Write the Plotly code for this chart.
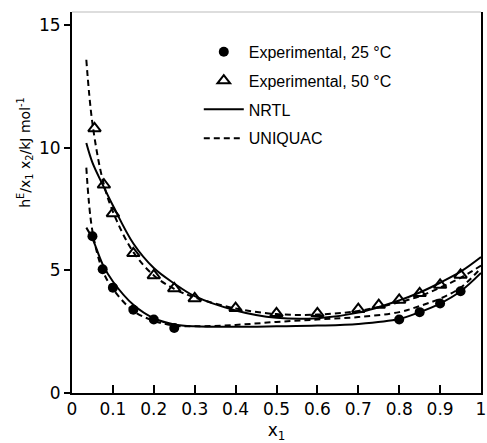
import plotly.graph_objects as go

# Experimental data
x25 = [0.05, 0.075, 0.1, 0.15, 0.2, 0.25, 0.8, 0.85, 0.9, 0.95]
y25 = [6.4, 5.05, 4.3, 3.4, 3.0, 2.65, 3.0, 3.3, 3.65, 4.15]

x50 = [0.055, 0.078, 0.1, 0.15, 0.2, 0.25, 0.3, 0.4, 0.5, 0.6, 0.7, 0.75, 0.8, 0.85, 0.9, 0.95]
y50 = [10.8, 8.5, 7.33, 5.7, 4.8, 4.27, 3.86, 3.46, 3.25, 3.25, 3.42, 3.59, 3.8, 4.07, 4.41, 4.82]

# Model curves
xc = [0.035, 0.05, 0.075, 0.1, 0.15, 0.2, 0.25, 0.3, 0.4, 0.5, 0.6, 0.7, 0.8, 0.85, 0.9, 0.95, 1.0]
nrtl50 = [10.2, 9.4, 8.5, 7.65, 6.1, 5.1, 4.47, 3.95, 3.37, 3.07, 3.05, 3.28, 3.78, 4.1, 4.5, 4.95, 5.55]
uniq50 = [13.6, 11.0, 8.7, 7.4, 5.75, 4.8, 4.25, 3.9, 3.45, 3.22, 3.2, 3.35, 3.7, 3.95, 4.3, 4.7, 5.2]
nrtl25 = [6.75, 6.3, 5.25, 4.55, 3.6, 3.05, 2.8, 2.72, 2.7, 2.72, 2.75, 2.82, 3.02, 3.3, 3.65, 4.15, 4.9]
uniq25 = [9.2, 6.6, 5.0, 4.25, 3.35, 2.95, 2.75, 2.72, 2.78, 2.9, 3.0, 3.1, 3.3, 3.55, 3.85, 4.3, 5.1]

xticks = [0, 0.1, 0.2, 0.3, 0.4, 0.5, 0.6, 0.7, 0.8, 0.9, 1.0]
xticklabels = ["0", "0.1", "0.2", "0.3", "0.4", "0.5", "0.6", "0.7", "0.8", "0.9", "1"]
yticks = [0, 5, 10, 15]

FONT = "DejaVu Sans"

fig = go.Figure()
fig.add_trace(go.Scatter(x=xc, y=nrtl50, mode="lines", line=dict(color="black", width=2, shape="spline"),
                         showlegend=False, legendgroup="c"))
fig.add_trace(go.Scatter(x=xc, y=uniq50, mode="lines", line=dict(color="black", width=2, dash="6px,4px", shape="spline"),
                         showlegend=False, legendgroup="d"))
fig.add_trace(go.Scatter(x=xc, y=nrtl25, mode="lines", line=dict(color="black", width=2, shape="spline"),
                         name="NRTL", legendgroup="c", legendrank=3))
fig.add_trace(go.Scatter(x=xc, y=uniq25, mode="lines", line=dict(color="black", width=2, dash="6px,4px", shape="spline"),
                         name="UNIQUAC", legendgroup="d", legendrank=4))
fig.add_trace(go.Scatter(x=x25, y=y25, mode="markers", name="Experimental, 25 °C",
                         marker=dict(symbol="circle", size=10, color="black"), legendgroup="a", legendrank=1))
fig.add_trace(go.Scatter(x=x50, y=y50, mode="markers", name="Experimental, 50 °C",
                         marker=dict(symbol="triangle-up-open", size=11, color="black", line=dict(width=2)),
                         legendgroup="b", legendrank=2))

fig.update_layout(
    width=487, height=443,
    margin=dict(l=72, r=6, t=12, b=50),
    paper_bgcolor="white", plot_bgcolor="white",
    font=dict(family=FONT, color="black", size=17),
    legend=dict(x=0.31, y=0.94, xanchor="left", yanchor="top", bgcolor="rgba(0,0,0,0)",
                font=dict(size=16, family="Liberation Sans"), traceorder="grouped",
                tracegroupgap=5, itemwidth=40),
    xaxis=dict(range=[0, 1], tickvals=xticks, ticktext=xticklabels, ticks="inside", ticklen=8,
               tickwidth=2, tickcolor="black", showline=True, linewidth=2, linecolor="black",
               showgrid=False, zeroline=False, automargin=False,
               title=dict(text="x<sub>1</sub>", font=dict(size=17), standoff=14)),
    yaxis=dict(range=[0, 15.55], tickvals=yticks, ticks="outside", ticklen=6, tickwidth=2,
               tickcolor="black", showline=True, linewidth=2, linecolor="black", mirror=True,
               showgrid=False, zeroline=False, automargin=False),
    annotations=[dict(text="h<sup>E</sup>/x<sub>1</sub> x<sub>2</sub>/kJ mol<sup>-1</sup>",
                      xref="paper", yref="paper", x=-0.115, y=0.633, textangle=-90,
                      showarrow=False, font=dict(size=14), xanchor="center", yanchor="middle")],
    shapes=[dict(type="line", xref="paper", yref="paper", x0=0, x1=1, y0=1, y1=1,
                 line=dict(color="#bbbbbb", width=1))],
)

fig.write_html("out.html")
